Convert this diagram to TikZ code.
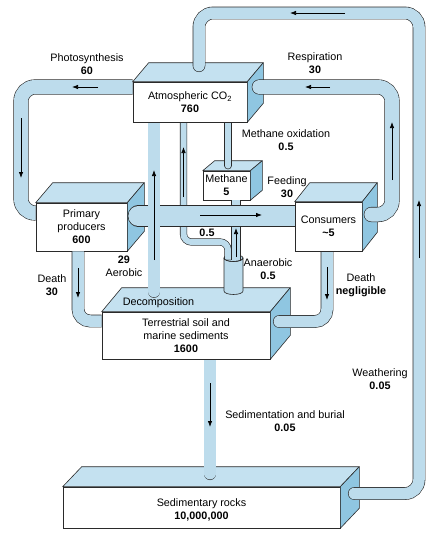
\documentclass[tikz,border=0pt]{standalone}
\usepackage{fontspec}
\setmainfont{Liberation Sans}
\usetikzlibrary{arrows.meta}

\definecolor{pipeblue}{HTML}{BDDCEC}
\definecolor{topblue}{HTML}{C4E1F0}
\definecolor{sideblue}{HTML}{8FC6E1}
\definecolor{edge}{HTML}{2A2A2A}

\pgfdeclarelayer{lrock}
\pgfdeclarelayer{lsed}
\pgfdeclarelayer{lmid}
\pgfdeclarelayer{ltop}
\pgfdeclarelayer{lfront}
\pgfsetlayers{lrock,lsed,lmid,main,ltop,lfront}

\tikzset{
  box/.style={draw=edge, fill=white, line width=0.6pt, inner sep=0pt, align=center,
    font=\fontsize{10.8}{13}\selectfont},
  topface/.style={draw=edge, fill=topblue, line width=0.6pt, line join=round},
  sideface/.style={draw=edge, fill=sideblue, line width=0.6pt, line join=round},
  pipe/.style={draw=edge, line width=0.6pt, double=pipeblue, double distance=#1,
    rounded corners=12pt},
  pipe/.default=11.5pt,
  flow/.style={-{Latex[length=6pt,width=4.5pt]}, line width=0.75pt, black},
  lbl/.style={align=center, inner sep=0pt, font=\fontsize{10.8}{13}\selectfont},
}

% front face as a node, then top and side faces
\newcommand{\cubebox}[7]{%
  \node[box, minimum width=#3, minimum height=#4] (#1) at (#2) {#7};
  \draw[topface] (#1.north west) -- ++(#5,-#6) -- ([shift={(#5,-#6)}]#1.north east)
    -- (#1.north east) -- cycle;
  \draw[sideface] (#1.north east) -- ++(#5,-#6) -- ([shift={(#5,-#6)}]#1.south east)
    -- (#1.south east) -- cycle;
}

\begin{document}
\begin{tikzpicture}[x=1pt, y=-1pt]
  \useasboundingbox (0,0) rectangle (443,538);

  % Reservoirs
  \begin{pgfonlayer}{lrock}
    \cubebox{rock}{201.5,507.5}{277}{41}{19}{20}{\\[-1pt]Sedimentary rocks\\\textbf{10,000,000}}
  \end{pgfonlayer}
  \begin{pgfonlayer}{lmid}
    \cubebox{soil}{186,335.5}{168}{47}{20}{24}{Terrestrial soil and\\marine sediments\\\textbf{1600}}
    \cubebox{prod}{81.5,227}{91}{48}{17}{20}{Primary\\producers\\\textbf{600}}
    \cubebox{meth}{226.5,185.5}{47}{29}{12}{10}{Methane\\\textbf{5}}
  \end{pgfonlayer}
  \begin{pgfonlayer}{ltop}
    \cubebox{cons}{328.5,226.5}{67}{49}{15}{19}{Consumers\\\textbf{\textasciitilde5}}
    \cubebox{co2}{190,102}{114}{40}{16}{19}{Atmospheric CO\textsubscript{2}\\\textbf{760}}
  \end{pgfonlayer}

  % Pipes
  \begin{pgfonlayer}{lsed}
    \draw[pipe, line cap=round] (soil.south -| 210,0) -- ([shift={(8.5,-13)}]rock.north);
  \end{pgfonlayer}
  \draw[pipe=14pt, rounded corners=14pt] ([yshift=15pt]co2.west) -- (21,87) |- ([yshift=14pt]prod.west);
  \draw[pipe] (prod.south -| 78,0) |- (soil.west |- 0,321);
  \draw[pipe, line cap=round] (cons.south -| 327,0) |- ([shift={(9,-14)}]soil.east);
  % anaerobic outlet
  \draw[draw=edge, line width=0.6pt, fill=pipeblue] (224,258) -- (224,291)
    arc[start angle=180, end angle=0, x radius=9.5, y radius=3.5] -- (243,258) -- cycle;
  \draw[draw=edge, line width=0.6pt, fill=pipeblue!85!black!20!pipeblue] (233.5,258)
    ellipse [x radius=9.5, y radius=3.5];
  \draw[pipe=6pt, rounded corners=8pt] (co2.south -| 183.5,0) -- (183.5,242) -- (228,242) -- (228,259.5);
  \draw[pipe=8pt] (meth.south -| 236,0) -- (236,259.5);
  \draw[edge, line width=0.6pt] (224,258) arc[start angle=180, end angle=0, x radius=9.5, y radius=3.5];
  \draw[pipe=20pt, line cap=round] ([shift={(11,-11)}]prod.east) -- (cons.west |- 0,216);
  \draw[pipe, line cap=round] (co2.south -| 154,0) -- (154,291.5);
  \draw[pipe=6pt, line cap=round] (co2.south -| 228,0) -- ([shift={(1.5,-5)}]meth.north);
  \begin{pgfonlayer}{lfront}
    \draw[pipe, line cap=round, rounded corners=14pt] ([shift={(14,-14)}]rock.east)
      -- (419,493.5) -- (419,13) -- (199,13) -- ([shift={(9,-16)}]co2.north);
    \draw[pipe=14pt, line cap=round, rounded corners=14pt] ([shift={(12,-15)}]co2.east) -- (392,87)
      |- ([shift={(9,-12)}]cons.east);
  \end{pgfonlayer}

  % Flow directions
  \begin{pgfonlayer}{lfront}
    \draw[flow] (345,13) -- (290,13);
    \draw[flow] (419,258) -- (419,200);
    \draw[flow] (98,87) -- (72,87);
    \draw[flow] (21,118) -- (21,178);
    \draw[flow] (330,87) -- (305,87);
    \draw[flow] (392,180) -- (392,122);
    \draw[flow] (200,215) -- (262,215);
    \draw[flow] (154,260) -- (154,170);
    \draw[flow, line width=0.6pt] (183.5,197) -- (183.5,147);
    \draw[flow] (236,257) -- (236,228);
    \draw[flow] (78,268) -- (78,298);
    \draw[flow] (327,267) -- (327,300);
    \draw[flow] (210,383) -- (210,427);
  \end{pgfonlayer}

  % Labels
  \node[lbl] (lPhoto) at (87,64) {Photosynthesis\\\textbf{60}};
  \node[lbl] (lResp) at (315,63.5) {Respiration\\\textbf{30}};
  \node[lbl] (lMox) at (286,140) {Methane oxidation\\\textbf{0.5}};
  \node[lbl] (lFeed) at (287,187) {Feeding\\\textbf{30}};
  \node[lbl] (lAnHalf) at (207,233) {\textbf{0.5}};
  \node[lbl] (lAero) at (124,266) {\textbf{29}\\Aerobic};
  \node[lbl] (lAnae) at (268,269) {Anaerobic\\\textbf{0.5}};
  \node[lbl] (lDeathP) at (52,285.5) {Death\\\textbf{30}};
  \node[lbl] (lDeathC) at (361,285.5) {Death\\\textbf{negligible}};
  \node[lbl] (lDecomp) at (158.5,303) {Decomposition};
  \node[lbl] (lWeath) at (380,379.5) {Weathering\\\textbf{0.05}};
  \node[lbl] (lSed) at (285,421) {Sedimentation and burial\\\textbf{0.05}};
\end{tikzpicture}
\end{document}
